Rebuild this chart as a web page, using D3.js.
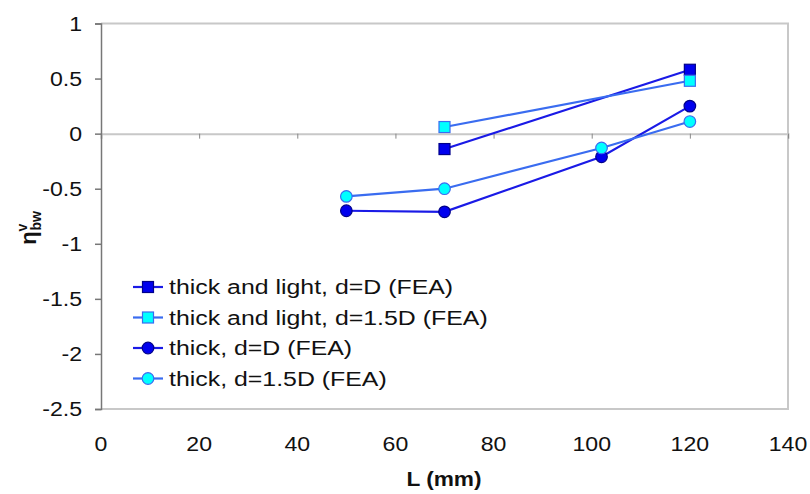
<!DOCTYPE html>
<html><head><meta charset="utf-8">
<script src="https://cdn.jsdelivr.net/npm/d3@7"></script>
<style>body{margin:0;background:#fff}svg{display:block}text{font-family:"Liberation Sans",Arial,sans-serif}</style>
</head><body><svg id="c" width="810" height="494"></svg>
<script>
const seriesNames = ["thick and light, d=D (FEA)","thick and light, d=1.5D (FEA)","thick, d=D (FEA)","thick, d=1.5D (FEA)"];
const L_s1 = [70,120];          const v_s1 = [-0.14,0.58];
const L_s2 = [70,120];          const v_s2 = [0.06,0.48];
const L_s3 = [50,70,102,120];   const v_s3 = [-0.70,-0.71,-0.21,0.25];
const L_s4 = [50,70,102,120];   const v_s4 = [-0.57,-0.50,-0.13,0.11];
const xTicks = [0,20,40,60,80,100,120,140];
const yTicks = [1,0.5,0,-0.5,-1,-1.5,-2,-2.5];

const svg = d3.select("#c");
const x = d3.scaleLinear().domain([0,140]).range([101,788]);
const y = d3.scaleLinear().domain([-2.5,1]).range([409,23.5]);

const styles = [
  {shape:"square", line:"#1a1ae6", fill:"#0000ee", stroke:"#00008a"},
  {shape:"square", line:"#3a6cf0", fill:"#00ffff", stroke:"#3a6cf0"},
  {shape:"circle", line:"#1a1ae6", fill:"#0000ee", stroke:"#00008a"},
  {shape:"circle", line:"#3a6cf0", fill:"#00ffff", stroke:"#3a6cf0"}
];
const data = [[L_s1,v_s1],[L_s2,v_s2],[L_s3,v_s3],[L_s4,v_s4]].map(([a,b])=>a.map((l,i)=>({l,v:b[i]})));

// plot border (top, right, bottom)
svg.append("path").attr("d",`M${x(0)},${y(1)}H${x(140)}V${y(-2.5)}H${x(0)}`)
  .attr("fill","none").attr("stroke","#c8c8c8").attr("stroke-width",2);

// zero line with ticks
const xa = svg.append("g").attr("transform",`translate(0,${y(0)})`)
  .call(d3.axisBottom(x).tickValues(xTicks).tickSize(5).tickFormat(""));
xa.select(".domain").attr("stroke","#c8c8c8").attr("stroke-width",2);
xa.selectAll(".tick line").attr("stroke","#888").attr("stroke-width",1);

// x tick labels at bottom
svg.append("g").selectAll("text").data(xTicks).join("text")
  .attr("x",d=>x(d)).attr("y",451).attr("text-anchor","middle")
  .attr("transform",d=>`translate(${x(d)},0) scale(1.1,1) translate(${-x(d)},0)`)
  .attr("font-size",21).attr("fill","#111").text(d=>d);

// y axis
const ya = svg.append("g").attr("transform",`translate(${x(0)},0)`)
  .call(d3.axisLeft(y).tickValues(yTicks).tickSize(6).tickFormat(d=>d));
ya.select(".domain").attr("stroke","#777").attr("stroke-width",1.5);
ya.selectAll(".tick line").attr("stroke","#777").attr("stroke-width",1.5);
ya.selectAll(".tick text").attr("font-size",21).attr("fill","#111").attr("x",-19)
  .attr("transform","translate(-19,0) scale(1.1,1) translate(19,0)")
  .attr("font-family","Liberation Sans, Arial, sans-serif");

// lines and markers
const line = d3.line().x(d=>x(d.l)).y(d=>y(d.v));
data.forEach((s,i)=>{
  const st = styles[i];
  svg.append("path").datum(s).attr("d",line).attr("fill","none")
    .attr("stroke",st.line).attr("stroke-width",2.2);
});
function marker(g,st,cx,cy){
  if(st.shape==="square"){
    g.append("rect").attr("x",cx-5.5).attr("y",cy-5.5).attr("width",11).attr("height",11)
      .attr("fill",st.fill).attr("stroke",st.stroke).attr("stroke-width",1.2);
  } else {
    g.append("circle").attr("cx",cx).attr("cy",cy).attr("r",5.8)
      .attr("fill",st.fill).attr("stroke",st.stroke).attr("stroke-width",1.2);
  }
}
data.forEach((s,i)=>{
  const g = svg.append("g");
  s.forEach(d=>marker(g,styles[i],x(d.l),y(d.v)));
});

// legend
const lg = svg.append("g");
seriesNames.forEach((n,i)=>{
  const yy = 287 + i*30.5;
  lg.append("line").attr("x1",133).attr("x2",163).attr("y1",yy).attr("y2",yy)
    .attr("stroke",styles[i].line).attr("stroke-width",2.2);
  marker(lg,styles[i],148,yy);
  lg.append("text").attr("x",169).attr("y",yy+7.5).attr("font-size",21).attr("fill","#111")
    .attr("transform",`translate(169,0) scale(1.185,1) translate(-169,0)`).text(n);
});

// axis titles
svg.append("text").attr("x",444).attr("y",486).attr("text-anchor","middle")
  .attr("transform","translate(444,0) scale(1.08,1) translate(-444,0)")
  .attr("font-size",21).attr("font-weight","bold").attr("fill","#111").text("L (mm)");
const yt = svg.append("text").attr("transform","translate(36,228) rotate(-90)")
  .attr("text-anchor","middle").attr("font-size",22).attr("font-weight","bold").attr("fill","#111");
yt.append("tspan").text("η");
yt.append("tspan").attr("dy",-9).attr("font-size",14).text("v");
yt.append("tspan").attr("dy",14).attr("dx",-7).attr("font-size",14).text("bw");
</script></body></html>
